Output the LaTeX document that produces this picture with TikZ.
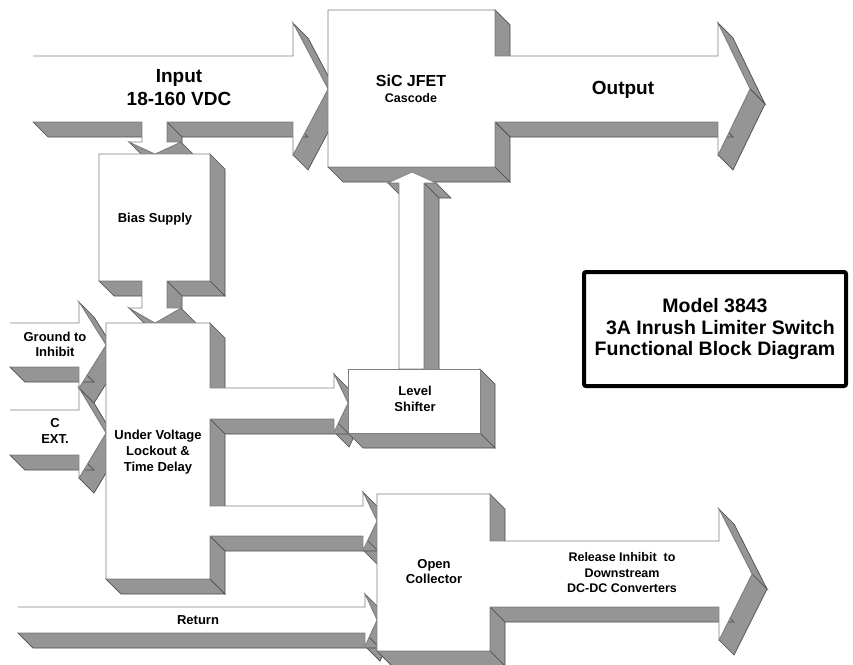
\documentclass[tikz,border=0pt]{standalone}
\usepackage{fontspec}
\setmainfont{Liberation Sans}
\definecolor{shadegray}{HTML}{959595}
\tikzset{
  sidefill/.style={fill=shadegray, draw=black!70, line width=0.7pt, line join=miter},
  faceline/.style={draw=black!50, line width=0.7pt, line join=miter},
  lbl/.style={inner sep=0pt, align=center, font=\bfseries\fontsize{13}{16}\selectfont},
}
% #1 = closing of stroke (default: -- cycle), #2,#3 = first point, #4 = remaining points x/y
\newcommand\extr[4][-- cycle]{%
  \foreach \x/\y [remember=\x as \px (initially #2), remember=\y as \py (initially #3)] in {#4}{%
    \pgfmathtruncatemacro\ff{((\y-\py)-(\x-\px))>0}%
    \ifnum\ff=1
      \filldraw[sidefill] (\px,\py) -- (\x,\y) -- (\x+15,\y+15) -- (\px+15,\py+15) -- cycle;
    \fi
  }%
  \fill[white] (#2,#3) \foreach \x/\y in {#4}{ -- (\x,\y)} -- cycle;
  \draw[faceline] (#2,#3) \foreach \x/\y in {#4}{ -- (\x,\y)} #1;
}
\begin{document}
\begin{tikzpicture}[x=1pt,y=-1pt]
\useasboundingbox (0,0) rectangle (853,664);
% Input arrow with branch to bias supply
\extr[]{33}{56}{293/56, 293/23, 328/89, 293/155, 293/122, 167/122, 167/142, 181/142, 155/154, 129/142, 142/142, 142/122, 33/122}
% SiC JFET cascode with output arrow
\extr{328}{10}{495/10, 495/56, 718/56, 718/23, 750/89, 718/155, 718/122, 495/122, 495/167, 328/167}
% level shifter to SiC
\extr{399}{369}{399/183, 388/183, 412/172, 436/183, 424/183, 424/369}
% Ground to inhibit
\extr[]{10}{323}{79/323, 79/302, 106/345, 79/388, 79/367, 10/367}
% C EXT
\extr[]{10}{410}{79/410, 79/388, 106/433, 79/478, 79/455, 10/455}
% Bias supply
\extr{99}{154}{210/154, 210/281, 167/281, 167/308, 181/308, 155/323, 129/308, 142/308, 142/281, 99/281}
% UVLO
\extr{106}{323}{210/323, 210/388, 334/388, 334/374, 348/403, 334/432, 334/419, 210/419, 210/506, 363/506, 363/492, 377/521, 363/550, 363/536, 210/536, 210/579, 106/579}
% Level shifter
\extr{348}{369}{480/369, 480/433, 348/433}
% Return
\extr[]{18}{607}{365/607, 365/594, 377/620, 365/646, 365/633, 18/633}
% Open collector with release arrow
\extr{377}{494}{490/494, 490/541, 719/541, 719/509, 752/574, 719/640, 719/607, 490/607, 490/651, 377/651}

% labels
\node[lbl, font=\bfseries\fontsize{19}{23}\selectfont] (input) at (179,88) {Input\\18-160 VDC};
\node[lbl, font=\bfseries\fontsize{16}{16}\selectfont, anchor=base] (sic) at (411,86) {SiC JFET};
\node[lbl, font=\bfseries\fontsize{12.5}{15}\selectfont, anchor=base] (cascode) at (411,102) {Cascode};
\node[lbl, font=\bfseries\fontsize{19}{23}\selectfont, anchor=base] (output) at (623,94) {Output};
\node[lbl, anchor=base] (bias) at (155,222) {Bias Supply};
\node[lbl, font=\bfseries\fontsize{13}{15}\selectfont] (gnd) at (55,344) {Ground to\\Inhibit};
\node[lbl] (cext) at (55,431) {C\\EXT.};
\node[lbl] (uvlo) at (158,452) {Under Voltage\\Lockout \&\\Time Delay};
\node[lbl] (ls) at (415,399) {Level\\Shifter};
\node[lbl, font=\bfseries\fontsize{13}{15}\selectfont] (oc) at (434,572) {Open\\Collector};
\node[lbl, font=\bfseries\fontsize{12.5}{15.5}\selectfont] (rel) at (622,573) {Release Inhibit\ \ to\\Downstream\\DC-DC Converters};
\node[lbl, anchor=base] (ret) at (198,624) {Return};

% title box
\node[draw, line width=4pt, rounded corners=2pt, minimum width=262pt, minimum height=114pt, inner sep=0pt] (modelbox) at (715,329) {};
\node[lbl, font=\bfseries\fontsize{19.5}{21.5}\selectfont] (title) at (modelbox.center) {Model 3843\\\hspace*{0.55em}3A Inrush Limiter Switch\\Functional Block Diagram};
\end{tikzpicture}
\end{document}
